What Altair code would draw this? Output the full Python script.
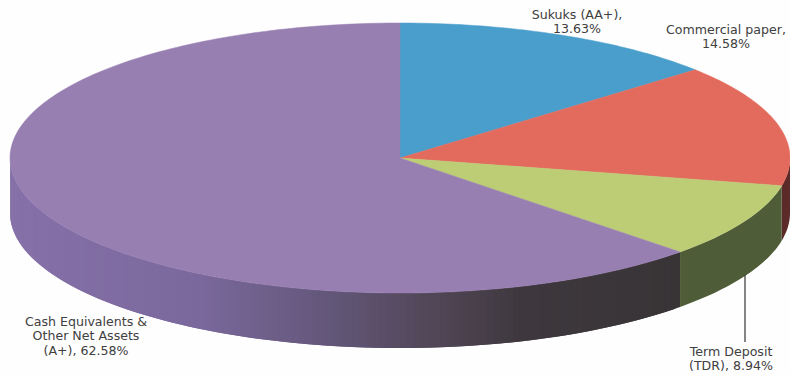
import math
import altair as alt

# Portfolio allocation, clockwise from twelve o'clock
categories = ["Sukuks (AA+)", "Commercial paper", "Term Deposit (TDR)", "Cash Equivalents & Other Net Assets (A+)"]
shares = [13.63, 14.58, 8.94, 62.58]
top_colors = ["#4a9ecc", "#e36b5d", "#bccd76", "#987fb2"]
side_colors = ["#3b6f8e", "#5c2b29", "#4f5c38", None]

# Lighting along the purple wall: (horizontal position, rgb)
shade_stops = [
    (10, (134, 113, 168)),
    (200, (122, 104, 156)),
    (340, (97, 85, 118)),
    (430, (82, 71, 88)),
    (520, (62, 56, 62)),
    (682, (56, 52, 54)),
]

CX, CY, RX, RY, DEPTH = 400, 158, 390, 135, 55


def rim(deg, drop=0):
    a = math.radians(deg)
    return [CX + RX * math.sin(a), CY - RY * math.cos(a) + drop]


def span(a0, a1, step=1.0):
    n = max(1, math.ceil((a1 - a0) / step))
    return [a0 + (a1 - a0) * i / n for i in range(n + 1)]


def feature(ring, fill, kind):
    return {
        "type": "Feature",
        "geometry": {"type": "Polygon", "coordinates": [ring + [ring[0]]]},
        "properties": {"fill": fill, "kind": kind},
    }


def shade(x):
    for (x0, c0), (x1, c1) in zip(shade_stops, shade_stops[1:]):
        if x <= x1:
            f = max(0, (x - x0) / (x1 - x0))
            r, g, b = (round(p + (q - p) * f) for p, q in zip(c0, c1))
            return f"#{r:02x}{g:02x}{b:02x}"
    return "#383436"


total = sum(shares)
edges = [0.0]
for s in shares:
    edges.append(edges[-1] + s / total * 360)

walls, tops = [], []
for i in range(len(shares)):
    a0, a1 = edges[i], edges[i + 1]
    tops.append(feature([[CX, CY]] + [rim(t) for t in span(a0, a1)], top_colors[i], "top"))
    lo, hi = max(a0, 90), min(a1, 270)
    if lo >= hi:
        continue
    if side_colors[i]:
        arc = span(lo, hi)
        ring = [rim(t) for t in arc] + [rim(t, DEPTH) for t in reversed(arc)]
        walls.append(feature(ring, side_colors[i], "wall"))
    else:
        # Each strip reaches over its neighbour so no seams show between them
        arc = span(lo, hi, 1.0)
        for t0, t1 in zip(arc, arc[1:]):
            t2 = min(hi, t1 + 1.0)
            ring = [rim(t0), rim(t2), rim(t2, DEPTH), rim(t0, DEPTH)]
            walls.append(feature(ring, shade(rim((t0 + t1) / 2)[0]), "wall"))

projection = alt.Projection(type="identity", scale=1, translate=[0, 0])

wall_layer = (
    alt.Chart(alt.Data(values=walls))
    .mark_geoshape(strokeWidth=0)
    .encode(fill=alt.Color("properties.fill:N", scale=None))
    .project(**projection.to_dict())
)
top_layer = (
    alt.Chart(alt.Data(values=tops))
    .mark_geoshape(strokeWidth=0.5)
    .encode(
        fill=alt.Color("properties.fill:N", scale=None),
        stroke=alt.Color("properties.fill:N", scale=None),
    )
    .project(**projection.to_dict())
)

# Leader from the term deposit wall down to its label
leader = (
    alt.Chart(alt.Data(values=[{"x": 745, "y0": 275, "y1": 342}]))
    .mark_rule(color="#333333", strokeWidth=1.2)
    .encode(
        x=alt.X("x:Q", scale=None, axis=None),
        y=alt.Y("y0:Q", scale=None, axis=None),
        y2="y1:Q",
    )
)

lines = [
    ("Sukuks (AA+),", 577, 15),
    (f"{shares[0]:.2f}%", 577, 29),
    ("Commercial paper,", 726, 30),
    (f"{shares[1]:.2f}%", 726, 44),
    ("Term Deposit", 731, 352),
    (f"(TDR), {shares[2]:.2f}%", 731, 366),
    ("Cash Equivalents &", 86, 322),
    ("Other Net Assets", 86, 336),
    (f"(A+), {shares[3]:.2f}%", 86, 351),
]
labels = (
    alt.Chart(alt.Data(values=[{"t": t, "x": x, "y": y} for t, x, y in lines]))
    .mark_text(font="DejaVu Sans", fontSize=12.6, color="#404040", align="center", baseline="middle")
    .encode(
        x=alt.X("x:Q", scale=None, axis=None),
        y=alt.Y("y:Q", scale=None, axis=None),
        text="t:N",
    )
)

chart = (
    alt.layer(wall_layer, top_layer, leader, labels)
    .properties(width=790, height=375, padding=0, autosize=alt.AutoSizeParams(type="none"), background="#fefefe")
    .configure_view(stroke=None)
)

chart.save("out.html", embed_options={"renderer": "svg", "actions": False})
